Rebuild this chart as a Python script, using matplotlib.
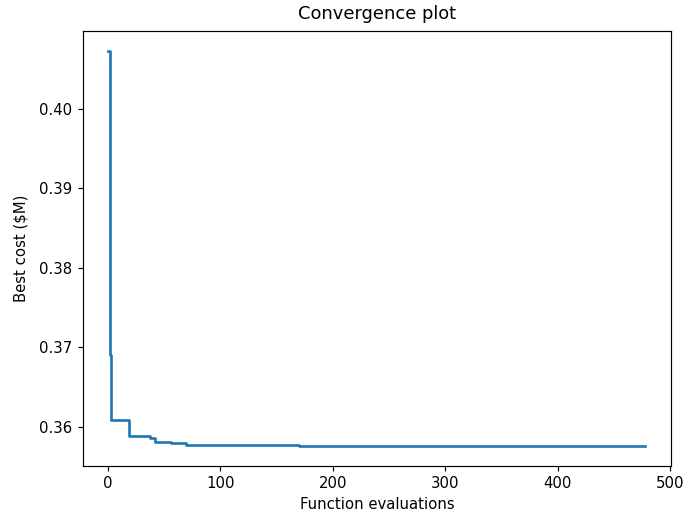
import matplotlib
matplotlib.use('Agg')
import matplotlib.pyplot as plt

# evaluation index where best cost changes, and the new best cost
evals = [0, 2, 3, 19, 37, 42, 56, 69, 162, 170, 177, 182, 478]
best_cost = [0.4073, 0.3690, 0.36088, 0.35878, 0.35858, 0.35808, 0.3579,
             0.35774, 0.35768, 0.35760, 0.35755, 0.35753, 0.35753]

dpi = 107
fig = plt.figure(figsize=(684 / dpi, 519 / dpi), dpi=dpi)
ax = fig.add_axes([0.121, 0.102, 0.860, 0.838])
ax.step(evals, best_cost, where='post', color='#1f77b4', linewidth=1.8)
ax.set_title('Convergence plot', pad=8)
ax.set_xlabel('Function evaluations')
ax.set_ylabel('Best cost ($M)', labelpad=7)
ax.set_xlim(-22.5, 501)
ax.set_xticks([0, 100, 200, 300, 400, 500])
ax.set_yticks([0.36, 0.37, 0.38, 0.39, 0.40])
fig.savefig('out.png', dpi=dpi)
